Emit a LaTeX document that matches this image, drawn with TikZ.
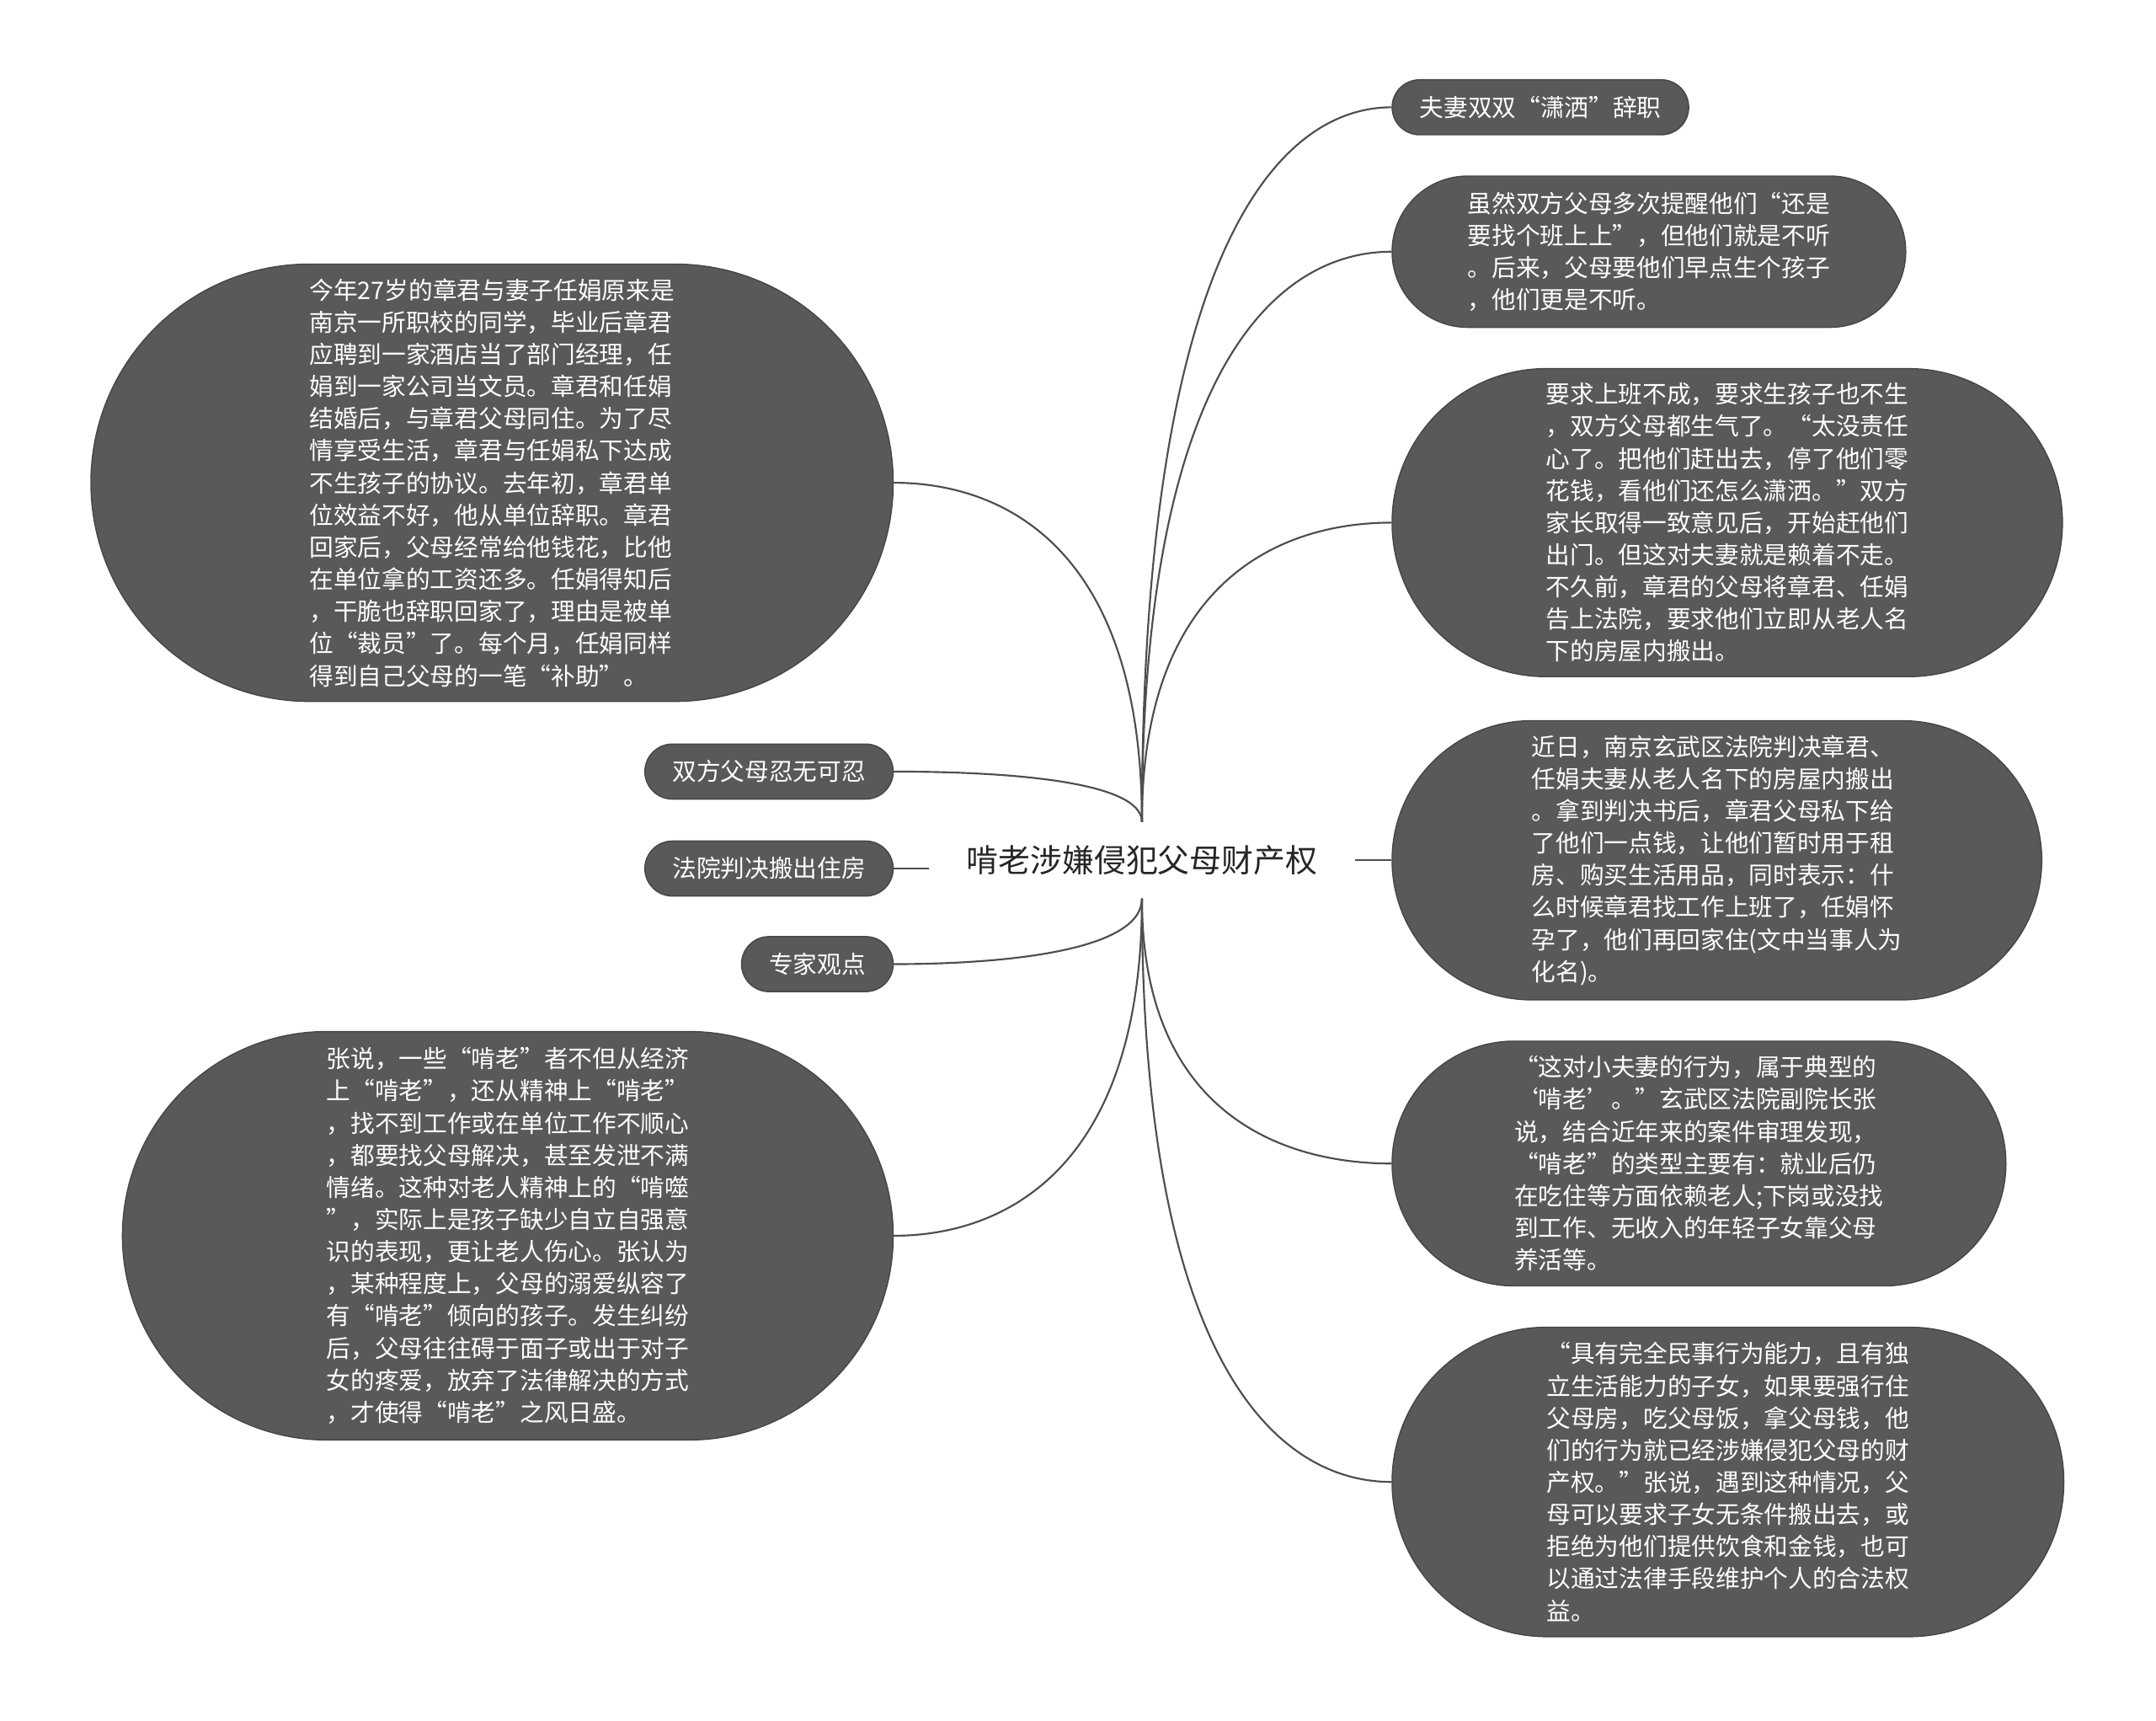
\documentclass[tikz,border=0pt]{standalone}
\usepackage{fontspec}
\newfontfamily\cjk{Noto Sans CJK SC}
\definecolor{bubblegray}{RGB}{89,89,89}
\definecolor{edgegray}{RGB}{70,70,70}
\definecolor{linegray}{RGB}{78,78,78}
\begin{document}
\begin{tikzpicture}[x=0.02cm, y=-0.02cm,
  % pill shaped topic, the argument is the end radius (half the height)
  bubble/.style={rectangle, rounded corners=#1, inner xsep=#1, inner ysep=0pt,
    minimum height=2*#1, fill=bubblegray, draw=edgegray, line width=0.5pt,
    text=white, align=left, font=\cjk\fontsize{10pt}{13.3pt}\selectfont},
  conn/.style={draw=linegray, line width=0.75pt}]
% Page size and white background
\path[fill=white, use as bounding box] (0,0) rectangle (1568,1251);

% Central topic
\node[inner sep=0pt, minimum width=6.18cm, minimum height=1.1cm, text=black!85,
  font=\cjk\fontsize{13.2pt}{16pt}\selectfont] (root) at (830.5,625.5) {啃老涉嫌侵犯父母财产权};

% Left branches
\node[bubble=3.18cm, anchor=east] (l1) at (650,351) {今年27岁的章君与妻子任娟原来是\\
南京一所职校的同学，毕业后章君\\
应聘到一家酒店当了部门经理，任\\
娟到一家公司当文员。章君和任娟\\
结婚后，与章君父母同住。为了尽\\
情享受生活，章君与任娟私下达成\\
不生孩子的协议。去年初，章君单\\
位效益不好，他从单位辞职。章君\\
回家后，父母经常给他钱花，比他\\
在单位拿的工资还多。任娟得知后\\
，干脆也辞职回家了，理由是被单\\
位“裁员”了。每个月，任娟同样\\
得到自己父母的一笔“补助”。};
\node[bubble=0.4cm, anchor=east] (l2) at (650,561) {双方父母忍无可忍};
\node[bubble=0.4cm, anchor=east] (l3) at (650,631.5) {法院判决搬出住房};
\node[bubble=0.4cm, anchor=east] (l4) at (650,701) {专家观点};
\node[bubble=2.97cm, anchor=east] (l5) at (650,898.5) {张说，一些“啃老”者不但从经济\\
上“啃老”，还从精神上“啃老”\\
，找不到工作或在单位工作不顺心\\
，都要找父母解决，甚至发泄不满\\
情绪。这种对老人精神上的“啃噬\\
”，实际上是孩子缺少自立自强意\\
识的表现，更让老人伤心。张认为\\
，某种程度上，父母的溺爱纵容了\\
有“啃老”倾向的孩子。发生纠纷\\
后，父母往往碍于面子或出于对子\\
女的疼爱，放弃了法律解决的方式\\
，才使得“啃老”之风日盛。};

% Right branches
\node[bubble=0.4cm, anchor=west] (r1) at (1012,78) {夫妻双双“潇洒”辞职};
\node[bubble=1.1cm, anchor=west] (r2) at (1012,183) {虽然双方父母多次提醒他们“还是\\
要找个班上上”，但他们就是不听\\
。后来，父母要他们早点生个孩子\\
，他们更是不听。};
\node[bubble=2.24cm, anchor=west] (r3) at (1012,380) {要求上班不成，要求生孩子也不生\\
，双方父母都生气了。“太没责任\\
心了。把他们赶出去，停了他们零\\
花钱，看他们还怎么潇洒。”双方\\
家长取得一致意见后，开始赶他们\\
出门。但这对夫妻就是赖着不走。\\
不久前，章君的父母将章君、任娟\\
告上法院，要求他们立即从老人名\\
下的房屋内搬出。};
\node[bubble=2.03cm, anchor=west] (r4) at (1012,625.5) {近日，南京玄武区法院判决章君、\\
任娟夫妻从老人名下的房屋内搬出\\
。拿到判决书后，章君父母私下给\\
了他们一点钱，让他们暂时用于租\\
房、购买生活用品，同时表示：什\\
么时候章君找工作上班了，任娟怀\\
孕了，他们再回家住(文中当事人为\\
化名)。};
\node[bubble=1.78cm, anchor=west] (r5) at (1012,846) {“这对小夫妻的行为，属于典型的\\
‘啃老’。”玄武区法院副院长张\\
说，结合近年来的案件审理发现，\\
“啃老”的类型主要有：就业后仍\\
在吃住等方面依赖老人;下岗或没找\\
到工作、无收入的年轻子女靠父母\\
养活等。};
\node[bubble=2.25cm, anchor=west] (r6) at (1012,1077.5) {“具有完全民事行为能力，且有独\\
立生活能力的子女，如果要强行住\\
父母房，吃父母饭，拿父母钱，他\\
们的行为就已经涉嫌侵犯父母的财\\
产权。”张说，遇到这种情况，父\\
母可以要求子女无条件搬出去，或\\
拒绝为他们提供饮食和金钱，也可\\
以通过法律手段维护个人的合法权\\
益。};

% Connectors going up
\draw[conn] (root.north) .. controls +(0,-416) and +(-82,0) .. (r1.west);
\draw[conn] (root.north) .. controls +(0,-332) and +(-82,0) .. (r2.west);
\draw[conn] (root.north) .. controls +(0,-174) and +(-82,0) .. (r3.west);
\draw[conn] (root.north) .. controls +(0,-198) and +(81,0) .. (l1.east);
\draw[conn] (root.north) .. controls +(0,-30) and +(81,0) .. (l2.east);
% Connectors going down
\draw[conn] (root.south) .. controls +(0,154) and +(-82,0) .. (r5.west);
\draw[conn] (root.south) .. controls +(0,340) and +(-82,0) .. (r6.west);
\draw[conn] (root.south) .. controls +(0,38) and +(81,0) .. (l4.east);
\draw[conn] (root.south) .. controls +(0,196) and +(81,0) .. (l5.east);
% Straight stubs
\draw[conn] (l3.east) -- (l3.east -| root.west);
\draw[conn] (r4.west) -- (r4.west -| root.east);
\end{tikzpicture}
\end{document}
